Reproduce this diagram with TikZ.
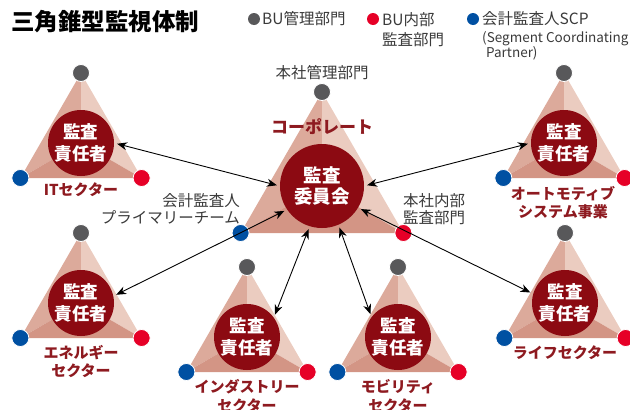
\documentclass[tikz,border=0pt]{standalone}
\usepackage{fontspec}
\setmainfont{Noto Sans CJK JP}
\usetikzlibrary{arrows.meta}
\definecolor{auditred}{HTML}{8C0A12}
\definecolor{sectorred}{HTML}{8E1A20}
\definecolor{facetleft}{HTML}{DCAA9B}
\definecolor{facetright}{HTML}{EBCCC0}
\definecolor{facetbottom}{HTML}{D39585}
\definecolor{dotgray}{HTML}{58585A}
\definecolor{dotred}{HTML}{E60027}
\definecolor{dotblue}{HTML}{0050A2}
\definecolor{labelink}{HTML}{3A3A3A}
\tikzset{
  role dot/.style={
    circle, draw=white, line width=0.8pt,
    minimum size=17pt, inner sep=0pt, outer sep=0pt
  },
  legend dot/.style={circle, minimum size=12pt, inner sep=0pt},
  audit circle/.style={
    circle, fill=auditred, text=white, inner sep=0pt, align=center,
    font=\fontsize{17.5}{22}\selectfont\bfseries
  },
  sector label/.style={
    text=sectorred, align=center, inner sep=0pt,
    font=\fontsize{15}{18.5}\selectfont\bfseries
  },
  role label/.style={
    text=labelink, inner sep=0pt,
    font=\fontsize{15.5}{17}\selectfont
  },
  audit link/.style={
    draw=black, line width=0.9pt,
    {Stealth[length=10pt,width=8pt]}-{Stealth[length=10pt,width=8pt]},
    shorten <=3pt, shorten >=3pt
  }
}
% shaded triangle with its three role dots: name, x, y, circumradius
\newcommand{\auditpyramid}[4]{%
  \coordinate (#1-c) at (#2,#3);
  \coordinate (#1-t) at (#2,#3-#4);
  \coordinate (#1-l) at (#2-0.866*#4,#3+0.5*#4);
  \coordinate (#1-r) at (#2+0.866*#4,#3+0.5*#4);
  \fill[facetleft] (#1-t) -- (#1-c) -- (#1-l) -- cycle;
  \fill[facetright] (#1-t) -- (#1-c) -- (#1-r) -- cycle;
  \fill[facetbottom] (#1-l) -- (#1-c) -- (#1-r) -- cycle;
  \node[role dot, fill=dotgray] (#1-gray) at (#1-t) {};
  \node[role dot, fill=dotblue] (#1-blue) at (#1-l) {};
  \node[role dot, fill=dotred] (#1-red) at (#1-r) {};
}

\begin{document}
\begin{tikzpicture}[x=1pt,y=-1pt]
  \useasboundingbox (0,0) rectangle (630,410);

  % Title and key.
  \node[anchor=west, inner sep=0pt, font=\fontsize{23.5}{28}\selectfont\bfseries] (title) at (11,22) {三角錐型監視体制};
  \node[legend dot, fill=dotgray] (key-gray) at (254,19) {};
  \node[role label, anchor=west] (key-gray-text) at (262,19) {BU管理部門};
  \node[legend dot, fill=dotred] (key-red) at (373,19) {};
  \node[role label, anchor=west, align=left, font=\fontsize{15.5}{20}\selectfont] (key-red-text) at (382,29.5) {BU内部\\監査部門};
  \node[legend dot, fill=dotblue] (key-blue) at (473,19) {};
  \node[role label, anchor=west] (key-blue-text) at (482,19) {会計監査人SCP};
  \node[role label, anchor=west, align=left, font=\fontsize{13.5}{15}\selectfont] (key-blue-note) at (482,45.5) {(Segment Coordinating\\\hspace*{4pt}Partner)};

  % Corporate pyramid in the middle, sector pyramids round it.
  \auditpyramid{hq}{322}{186}{94}
  \auditpyramid{it}{81}{143}{70}
  \auditpyramid{automotive}{564}{143}{70}
  \auditpyramid{energy}{81}{303}{70}
  \auditpyramid{life}{565}{303}{70}
  \auditpyramid{industry}{247}{337}{70}
  \auditpyramid{mobility}{398}{337}{70}

  \node[audit circle, minimum size=84pt, font=\fontsize{18.5}{21}\selectfont\bfseries] (hq) at (hq-c) {監査\\委員会};
  \node[audit circle, minimum size=66pt] (it) at (it-c) {監査\\責任者};
  \node[audit circle, minimum size=66pt] (automotive) at (automotive-c) {監査\\責任者};
  \node[audit circle, minimum size=66pt] (energy) at (energy-c) {監査\\責任者};
  \node[audit circle, minimum size=66pt] (life) at (life-c) {監査\\責任者};
  \node[audit circle, minimum size=66pt] (industry) at (industry-c) {監査\\責任者};
  \node[audit circle, minimum size=66pt] (mobility) at (mobility-c) {監査\\責任者};

  % Names of the units and of the corporate roles.
  \node[sector label, font=\fontsize{17}{20}\selectfont\bfseries] (hq-name) at (322,127) {コーポレート};
  \node[sector label] (it-name) at (81,190) {ITセクター};
  \node[sector label] (automotive-name) at (563,202.5) {オートモティブ\\システム事業};
  \node[sector label] (energy-name) at (81,361.5) {エネルギー\\セクター};
  \node[sector label] (life-name) at (565,353) {ライフセクター};
  \node[sector label] (industry-name) at (247,396) {インダストリー\\セクター};
  \node[sector label] (mobility-name) at (398,396) {モビリティ\\セクター};
  \node[role label] (hq-gray-name) at (322,73) {本社管理部門};
  \node[role label, anchor=east, align=right] (hq-blue-name) at (240,208.5) {会計監査人\\プライマリーチーム};
  \node[role label, anchor=west, align=left] (hq-red-name) at (403,209.5) {本社内部\\監査部門};

  % Two-way links between the committee and each sector.
  \draw[audit link] (it.0) -- (hq.180);
  \draw[audit link] (automotive.180) -- (hq.0);
  \draw[audit link] (energy.12) -- (hq.214);
  \draw[audit link] (life.164) -- (hq.329);
  \draw[audit link] (industry.36) -- (hq.253);
  \draw[audit link] (mobility.143) -- (hq.293);
\end{tikzpicture}
\end{document}
